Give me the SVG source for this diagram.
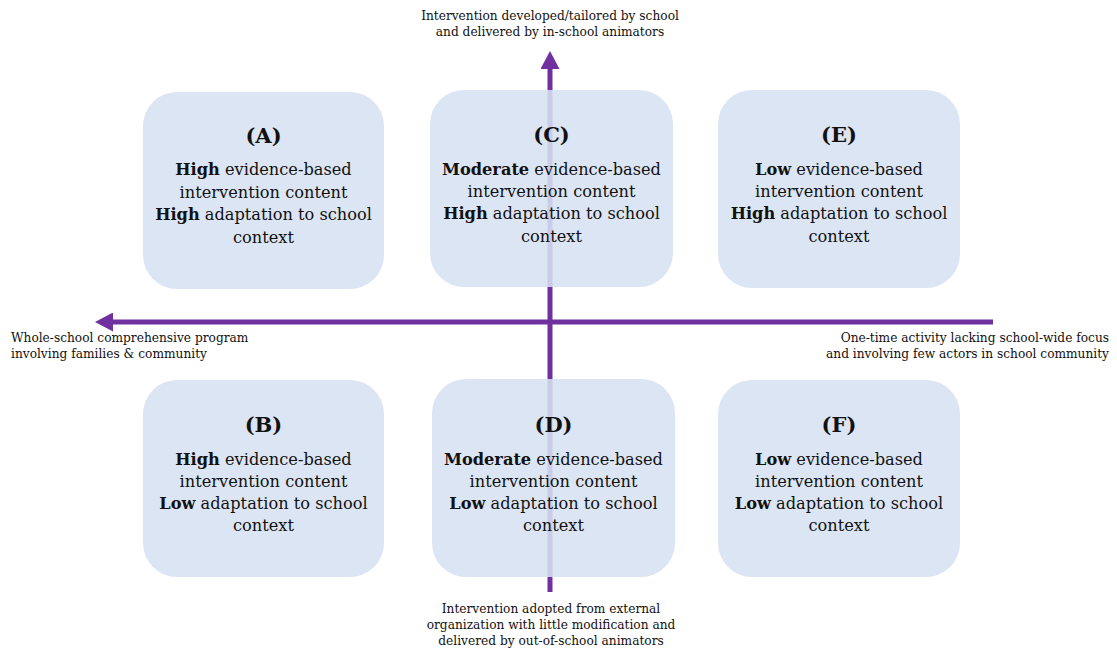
<svg xmlns="http://www.w3.org/2000/svg" width="1117" height="652" viewBox="0 0 1117 652">
<style>
.box{fill:#d7e1f1;fill-opacity:0.88;}
.t{font-family:"DejaVu Serif","Liberation Serif",serif;fill:#111111;text-anchor:middle;}
.ttl{font-size:21px;font-weight:bold;}
.body{font-size:16.2px;}
.b{font-weight:bold;}
.ax{font-family:"DejaVu Serif","Liberation Serif",serif;fill:#111111;font-size:12.2px;}
.axis{stroke:#7030a0;stroke-width:5;fill:none;}
</style>
<defs>
<marker id="ah" markerUnits="userSpaceOnUse" markerWidth="18" markerHeight="19" refX="0" refY="9.5" orient="auto">
<path d="M0,0 L18,9.5 L0,19 z" fill="#7030a0"/>
</marker>
</defs>
<rect width="1117" height="652" fill="#ffffff"/>
<g id="connectors">
<path class="axis" d="M993,322 L113,322" marker-end="url(#ah)"/>
<path class="axis" d="M550,592 L550,69" marker-end="url(#ah)"/>
</g>
<g id="axis-labels">
<text class="ax" text-anchor="middle"><tspan x="550" y="20">Intervention developed/tailored by school</tspan><tspan x="550" y="36">and delivered by in-school animators</tspan></text>
<text class="ax" text-anchor="start"><tspan x="11" y="342">Whole-school comprehensive program</tspan><tspan x="11" y="358">involving families &amp; community</tspan></text>
<text class="ax" text-anchor="end"><tspan x="1109" y="342">One-time activity lacking school-wide focus</tspan><tspan x="1109" y="358">and involving few actors in school community</tspan></text>
<text class="ax" text-anchor="middle"><tspan x="551" y="613">Intervention adopted from external</tspan><tspan x="551" y="629">organization with little modification and</tspan><tspan x="551" y="645">delivered by out-of-school animators</tspan></text>
</g>
<g id="nodeA">
<rect class="box" x="143" y="92" width="241" height="197" rx="34"/>
<text class="t ttl" x="263.5" y="143">(A)</text>
<text class="t body"><tspan x="263.5" y="175"><tspan class="b">High</tspan> evidence-based</tspan><tspan x="263.5" y="198">intervention content</tspan><tspan x="263.5" y="220"><tspan class="b">High</tspan> adaptation to school</tspan><tspan x="263.5" y="243">context</tspan></text>
</g>
<g id="nodeC">
<rect class="box" x="430" y="90" width="243" height="197" rx="34"/>
<text class="t ttl" x="551.5" y="142">(C)</text>
<text class="t body"><tspan x="551.5" y="175"><tspan class="b">Moderate</tspan> evidence-based</tspan><tspan x="551.5" y="197">intervention content</tspan><tspan x="551.5" y="219"><tspan class="b">High</tspan> adaptation to school</tspan><tspan x="551.5" y="242">context</tspan></text>
</g>
<g id="nodeE">
<rect class="box" x="718" y="90" width="242" height="198" rx="34"/>
<text class="t ttl" x="839" y="142">(E)</text>
<text class="t body"><tspan x="839" y="175"><tspan class="b">Low</tspan> evidence-based</tspan><tspan x="839" y="197">intervention content</tspan><tspan x="839" y="219"><tspan class="b">High</tspan> adaptation to school</tspan><tspan x="839" y="242">context</tspan></text>
</g>
<g id="nodeB">
<rect class="box" x="143" y="380" width="241" height="197" rx="34"/>
<text class="t ttl" x="263.5" y="432">(B)</text>
<text class="t body"><tspan x="263.5" y="465"><tspan class="b">High</tspan> evidence-based</tspan><tspan x="263.5" y="487">intervention content</tspan><tspan x="263.5" y="509"><tspan class="b">Low</tspan> adaptation to school</tspan><tspan x="263.5" y="531">context</tspan></text>
</g>
<g id="nodeD">
<rect class="box" x="432" y="379" width="243" height="198" rx="34"/>
<text class="t ttl" x="553.5" y="432">(D)</text>
<text class="t body"><tspan x="553.5" y="465"><tspan class="b">Moderate</tspan> evidence-based</tspan><tspan x="553.5" y="487">intervention content</tspan><tspan x="553.5" y="509"><tspan class="b">Low</tspan> adaptation to school</tspan><tspan x="553.5" y="531">context</tspan></text>
</g>
<g id="nodeF">
<rect class="box" x="718" y="380" width="242" height="197" rx="34"/>
<text class="t ttl" x="839" y="432">(F)</text>
<text class="t body"><tspan x="839" y="465"><tspan class="b">Low</tspan> evidence-based</tspan><tspan x="839" y="487">intervention content</tspan><tspan x="839" y="509"><tspan class="b">Low</tspan> adaptation to school</tspan><tspan x="839" y="531">context</tspan></text>
</g>
</svg>
